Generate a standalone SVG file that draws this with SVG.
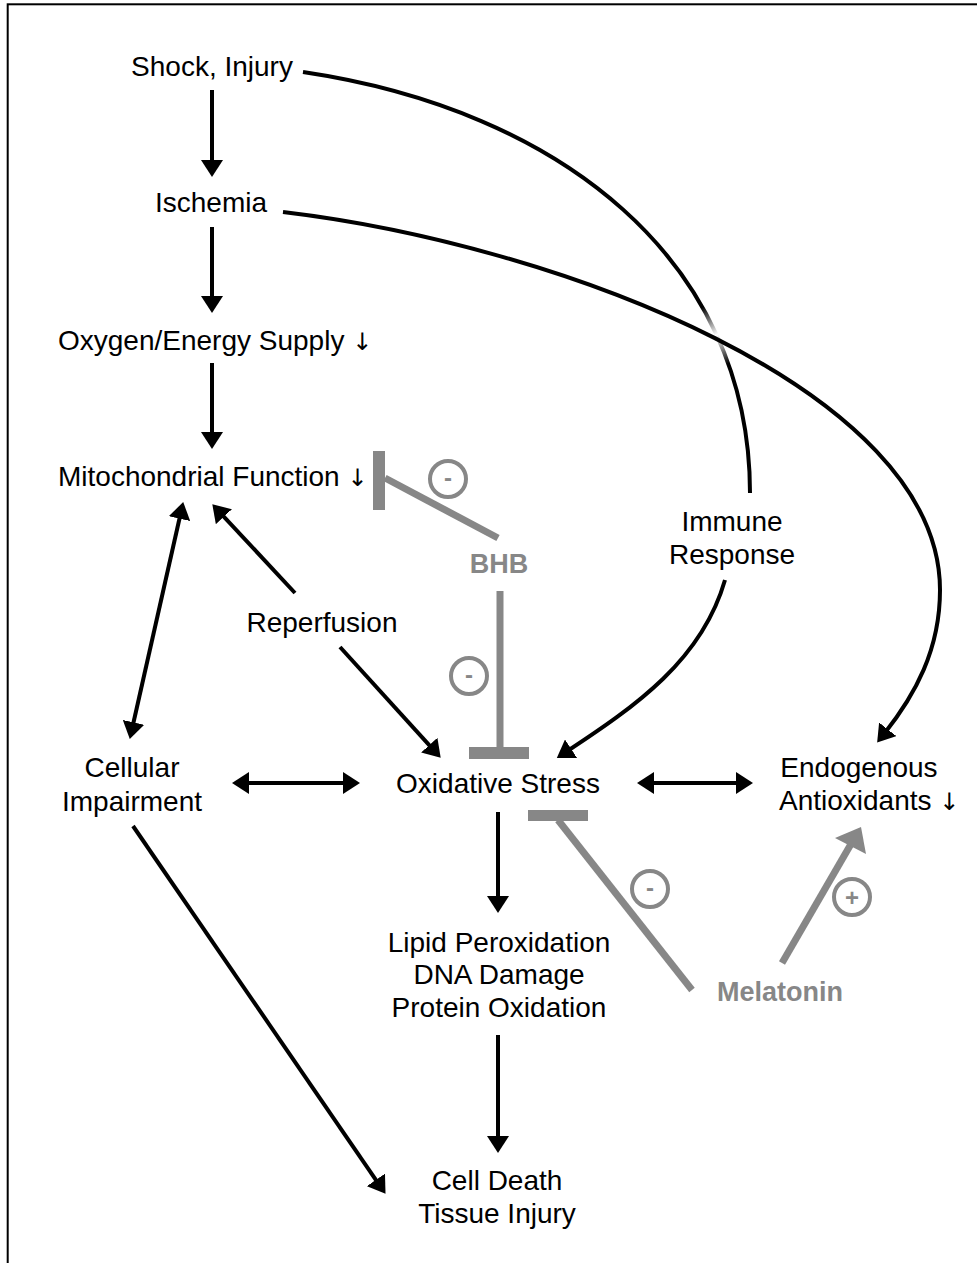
<svg xmlns="http://www.w3.org/2000/svg" width="977" height="1263" viewBox="0 0 977 1263">
<style>
text{font-family:"Liberation Sans",Arial,sans-serif;font-size:28px;fill:#000}
tspan.ar{font-family:"DejaVu Sans",sans-serif;font-size:24px;fill:#000}
text.g{font-weight:bold;font-size:27px;fill:#878787}
text.s{font-weight:bold;font-size:24px;fill:#878787}
.a{fill:none;stroke:#000;stroke-width:4}
.ab{fill:none;stroke:#000;stroke-width:4;marker-end:url(#ah)}
.dd{fill:none;stroke:#000;stroke-width:4;marker-end:url(#ah);marker-start:url(#ah)}
.gl{fill:none;stroke:#878787;stroke-width:7}
.gb{fill:#878787}
.c{fill:none;stroke:#878787;stroke-width:4}
</style>
<defs>
<marker id="ah" markerUnits="userSpaceOnUse" markerWidth="17" markerHeight="22" viewBox="0 0 17 22" refX="6" refY="11" orient="auto-start-reverse">
<path d="M0,0 L17,11 L0,22 Z" fill="#000"/>
</marker>
<linearGradient id="fade" gradientUnits="userSpaceOnUse" x1="703" y1="307" x2="732" y2="362">
<stop offset="0" stop-color="#fff" stop-opacity="0"/>
<stop offset="0.5" stop-color="#fff" stop-opacity="1"/>
<stop offset="1" stop-color="#fff" stop-opacity="0"/>
</linearGradient>
</defs>
<rect x="7.7" y="4.3" width="990" height="1290" fill="none" stroke="#000" stroke-width="2"/>

<g id="connectors">
<line class="ab" x1="212" y1="90" x2="212" y2="166"/>
<line class="ab" x1="212" y1="227" x2="212" y2="302"/>
<line class="ab" x1="212" y1="363" x2="212" y2="438"/>
<line class="dd" x1="180.8" y1="512.8" x2="132.2" y2="728.2"/>
<line class="ab" x1="295" y1="593" x2="219.8" y2="512.3"/>
<line class="ab" x1="340" y1="647" x2="433.3" y2="749.6"/>
<line class="dd" x1="243" y1="783" x2="349" y2="783"/>
<line class="dd" x1="648" y1="783" x2="742" y2="783"/>
<line class="ab" x1="498" y1="812" x2="498" y2="902"/>
<line class="ab" x1="498" y1="1035" x2="498" y2="1142"/>
<line class="ab" x1="133" y1="826" x2="379.3" y2="1184.8"/>
<path class="a" d="M303,72 C560,110 750,260 750,493"/>
<path fill="none" stroke="url(#fade)" stroke-width="6" d="M303,72 C560,110 750,260 750,493"/>
<path class="ab" d="M283,212 C560,245 940,390 940,590 C940,650 915,695 884,734"/>
<path class="ab" d="M725,580 C702,660 636,706 566,752"/>
<line class="gl" x1="385" y1="478" x2="498" y2="538"/>
<rect class="gb" x="373" y="451" width="12" height="59"/>
<line class="gl" x1="500" y1="591" x2="500" y2="748"/>
<rect class="gb" x="469" y="747" width="60" height="12"/>
<line class="gl" x1="558" y1="820" x2="692" y2="990"/>
<rect class="gb" x="528" y="810" width="60" height="11"/>
<line class="gl" x1="782" y1="963" x2="851" y2="844"/>
<path class="gb" d="M861,827 L835,838 L866,854 Z"/>
</g>

<g id="signs">
<circle class="c" cx="448" cy="479" r="18"/>
<text class="s" x="448" y="485.5" text-anchor="middle">-</text>
<circle class="c" cx="469" cy="676" r="18"/>
<text class="s" x="469" y="682.5" text-anchor="middle">-</text>
<circle class="c" cx="650" cy="889" r="18"/>
<text class="s" x="650" y="895.5" text-anchor="middle">-</text>
<circle class="c" cx="852" cy="897" r="18"/>
<text class="s" x="852" y="905.5" text-anchor="middle">+</text>
</g>

<g id="shock"><text x="212" y="76" text-anchor="middle">Shock, Injury</text></g>
<g id="ischemia"><text x="211" y="212" text-anchor="middle">Ischemia</text></g>
<g id="oxygen"><text x="58" y="350">Oxygen/Energy Supply <tspan class="ar">↓</tspan></text></g>
<g id="mito"><text x="58" y="486">Mitochondrial Function <tspan class="ar">↓</tspan></text></g>
<g id="reperfusion"><text x="322" y="632" text-anchor="middle">Reperfusion</text></g>
<g id="immune"><text x="732" y="531" text-anchor="middle">Immune</text><text x="732" y="564" text-anchor="middle">Response</text></g>
<g id="cellular"><text x="132" y="777" text-anchor="middle">Cellular</text><text x="132" y="811" text-anchor="middle">Impairment</text></g>
<g id="oxstress"><text x="498" y="793" text-anchor="middle">Oxidative Stress</text></g>
<g id="endogenous"><text x="859" y="777" text-anchor="middle">Endogenous</text><text x="779" y="810">Antioxidants <tspan class="ar">↓</tspan></text></g>
<g id="damage"><text x="499" y="952" text-anchor="middle">Lipid Peroxidation</text><text x="499" y="984" text-anchor="middle">DNA Damage</text><text x="499" y="1017" text-anchor="middle">Protein Oxidation</text></g>
<g id="celldeath"><text x="497" y="1190" text-anchor="middle">Cell Death</text><text x="497" y="1223" text-anchor="middle">Tissue Injury</text></g>
<g id="bhb"><text class="g" x="499" y="573" text-anchor="middle">BHB</text></g>
<g id="melatonin"><text class="g" x="780" y="1001" text-anchor="middle">Melatonin</text></g>
</svg>
